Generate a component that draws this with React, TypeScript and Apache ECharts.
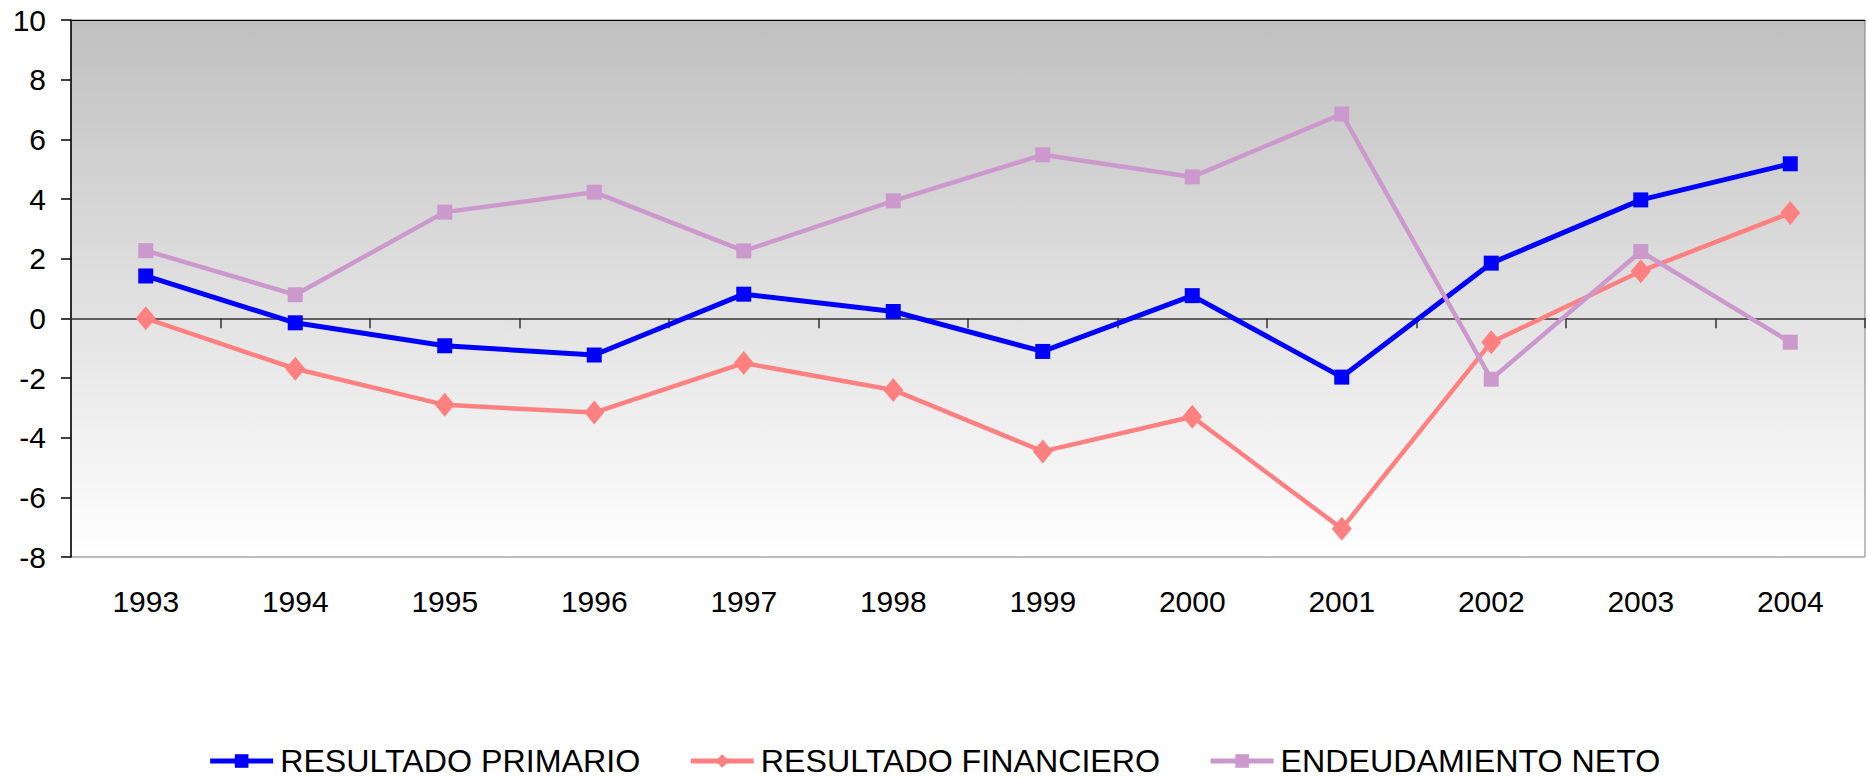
import React, { useEffect, useRef } from "react";
import * as echarts from "echarts";

const years = ["1993", "1994", "1995", "1996", "1997", "1998", "1999", "2000", "2001", "2002", "2003", "2004"];
const resultadoPrimario = [1.42, -0.15, -0.92, -1.23, 0.81, 0.23, -1.11, 0.76, -1.97, 1.85, 3.97, 5.18];
const resultadoFinanciero = [0.0, -1.69, -2.9, -3.16, -1.5, -2.4, -4.46, -3.3, -7.05, -0.8, 1.58, 3.53];
const endeudamientoNeto = [2.27, 0.79, 3.56, 4.23, 2.26, 3.94, 5.48, 4.74, 6.85, -2.04, 2.24, -0.8];

const FONT = "'Liberation Sans', Arial, sans-serif";

export default function App() {
  const ref = useRef<HTMLDivElement>(null);
  useEffect(() => {
    document.body.style.margin = "0";
    const chart = echarts.init(ref.current!, null, { renderer: "svg" });
    chart.setOption({
      animation: false,
      backgroundColor: "#ffffff",
      textStyle: { fontFamily: FONT },
      grid: {
        left: 71,
        right: 3,
        top: 20,
        bottom: 223,
        show: true,
        borderColor: "#808080",
        borderWidth: 1,
        backgroundColor: new echarts.graphic.LinearGradient(0, 0, 0, 1, [
          { offset: 0, color: "#c0c0c0" },
          { offset: 1, color: "#ffffff" },
        ]),
      },
      legend: {
        top: 740,
        left: "center",
        itemWidth: 63,
        itemHeight: 17,
        itemGap: 48,
        lineStyle: { width: 5 },
        textStyle: { fontSize: 32.2, color: "#000", fontFamily: FONT, padding: [0, 0, 0, 2] },
        data: ["RESULTADO PRIMARIO", "RESULTADO FINANCIERO", "ENDEUDAMIENTO NETO"],
      },
      xAxis: [
        {
          type: "category",
          data: years,
          position: "bottom",
          axisLine: { onZero: true, lineStyle: { color: "#333333", width: 1.5 } },
          axisTick: { show: true, length: 10, lineStyle: { color: "#333333", width: 1.5 } },
          axisLabel: { show: false },
        },
        {
          type: "category",
          data: years,
          position: "bottom",
          axisLine: { show: false, onZero: false },
          axisTick: { show: false },
          axisLabel: { show: true, fontSize: 30, color: "#000", margin: 29, fontFamily: FONT },
        },
        {
          type: "category",
          data: years,
          position: "top",
          axisLine: { show: true, onZero: false, lineStyle: { color: "#000", width: 1 } },
          axisTick: { show: false },
          axisLabel: { show: false },
        },
      ],
      yAxis: {
        type: "value",
        min: -8,
        max: 10,
        interval: 2,
        axisLine: { show: true, onZero: false, lineStyle: { color: "#000", width: 1.5 } },
        axisTick: { show: true, length: 10, lineStyle: { color: "#000", width: 1.5 } },
        axisLabel: { fontSize: 30, color: "#000", margin: 25, fontFamily: FONT },
        splitLine: { show: false },
      },
      series: [
        {
          name: "RESULTADO PRIMARIO",
          type: "line",
          data: resultadoPrimario,
          color: "#0000ff",
          lineStyle: { width: 5, color: "#0000ff" },
          itemStyle: { color: "#0000ff" },
          symbol: "rect",
          symbolSize: 15,
          z: 3,
        },
        {
          name: "RESULTADO FINANCIERO",
          type: "line",
          data: resultadoFinanciero,
          color: "#ff8080",
          lineStyle: { width: 4.5, color: "#ff8080" },
          itemStyle: { color: "#ff8080" },
          symbol: "diamond",
          symbolSize: [20, 24],
          z: 4,
        },
        {
          name: "ENDEUDAMIENTO NETO",
          type: "line",
          data: endeudamientoNeto,
          color: "#cc99cc",
          lineStyle: { width: 4.5, color: "#cc99cc" },
          itemStyle: { color: "#cc99cc" },
          symbol: "rect",
          symbolSize: 15,
          z: 5,
        },
      ],
    });
    return () => chart.dispose();
  }, []);
  return <div ref={ref} style={{ width: 1868, height: 780 }} />;
}
